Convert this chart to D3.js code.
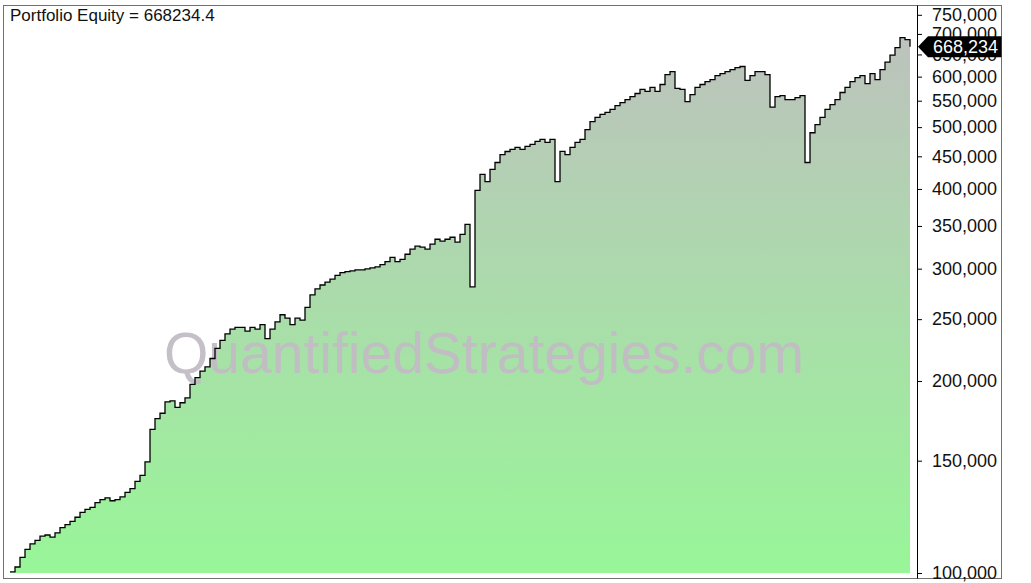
<!DOCTYPE html>
<html><head><meta charset="utf-8">
<script src="https://cdn.jsdelivr.net/npm/d3@7"></script>
<style>html,body{margin:0;padding:0;background:#fff;}svg{display:block;}</style>
</head><body>
<svg id="c" width="1031" height="583"></svg>
<script>
// Equity values (thousands of USD), one per period
const equityK = [
100.4,102.2,105.8,108.9,111.1,112.5,114.2,114.7,113.8,115.6,
117.8,119.1,120.5,122.3,124.5,125.8,126.7,128.9,130.3,131.2,
129.8,130.3,131.6,133.8,135.6,139.2,142.3,149.4,168.0,174.6,
178.0,185.5,186.2,181.8,184.9,188.1,197.5,202.4,207.3,210.5,
216.9,225.0,231.5,237.1,241.1,242.7,242.7,239.5,242.7,241.1,
245.2,233.1,241.1,247.6,254.0,251.0,245.2,251.0,249.2,260.9,
272.9,278.8,282.8,285.8,288.8,292.8,295.8,296.7,297.7,298.7,
298.7,299.7,300.8,302.0,304.3,307.8,312.5,307.8,310.2,316.0,
321.9,325.4,324.2,321.9,327.8,333.6,331.3,333.6,336.0,330.1,
339.5,352.0,280.8,398.0,421.6,410.8,429.3,440.1,452.7,457.9,
461.3,464.7,461.3,466.4,469.9,475.0,478.4,473.3,478.4,410.8,
458.0,452.7,464.7,473.3,478.4,495.5,510.2,517.8,523.5,527.3,
533.0,540.5,546.2,552.1,558.3,564.5,572.8,568.7,577.0,568.7,
583.2,604.3,611.0,575.0,572.8,548.1,562.4,577.0,583.2,589.4,
593.6,602.0,606.5,611.0,615.5,620.0,622.3,592.0,602.0,611.0,
611.0,604.3,537.5,558.3,560.4,552.1,552.1,556.2,560.4,440.1,
490.0,504.5,517.8,533.0,542.4,552.1,566.6,577.0,589.4,597.7,
602.0,585.0,606.5,593.6,615.5,632.4,648.5,666.3,690.7,685.9,
668.2344
];
const tickValues = [100000,150000,200000,250000,300000,350000,400000,450000,500000,550000,600000,650000,700000,750000];
const titleText = "Portfolio Equity = 668234.4";
const lastValue = 668234.4;
const watermark = "QuantifiedStrategies.com";

const data = equityK.map((v,i)=>({i, v: v*1000}));

const svg = d3.select("#c");
const W = 1031, H = 583;
const frame = {l:3.5, t:5.5, r:1001.5, b:578.5};
const axisX = 917;

const x = d3.scaleLinear().domain([0, data.length-1]).range([10, 910]);
const y = d3.scaleLog().domain([97860, 777000]).range([579, 5]);

const defs = svg.append("defs");
const grad = defs.append("linearGradient").attr("id","g").attr("gradientUnits","userSpaceOnUse")
  .attr("x1",0).attr("x2",0).attr("y1",5).attr("y2",y(100000));
grad.append("stop").attr("offset","0%").attr("stop-color","#bfbfbf");
grad.append("stop").attr("offset","100%").attr("stop-color","#98f698");

const area = d3.area().x(d=>x(d.i)).y0(y(100000)).y1(d=>y(d.v)).curve(d3.curveStepAfter);
svg.append("path").datum(data).attr("d",area).attr("fill","url(#g)");

svg.append("text").attr("x",484).attr("y",373).attr("text-anchor","middle")
  .attr("font-family","Liberation Sans, Arial, sans-serif").attr("font-size",57)
  .attr("fill","#c2bcc4").attr("fill-opacity",0.95).text(watermark);

const line = d3.line().x(d=>x(d.i)).y(d=>y(d.v)).curve(d3.curveStepAfter);
svg.append("path").datum(data).attr("d",line).attr("fill","none").attr("stroke","#000").attr("stroke-width",1.3);

// frame
svg.append("rect").attr("x",frame.l).attr("y",frame.t).attr("width",frame.r-frame.l).attr("height",frame.b-frame.t)
  .attr("fill","none").attr("stroke","#707070").attr("stroke-width",1);

// right axis
const axis = d3.axisRight(y).tickValues(tickValues).tickSize(5).tickPadding(10)
  .tickFormat(d3.format(","));
const ag = svg.append("g").attr("transform",`translate(${axisX},0)`).call(axis);
ag.select(".domain").attr("d",`M0.5,${frame.t}V${frame.b}`).attr("stroke","#000");
ag.selectAll(".tick line").attr("stroke","#000").attr("x1",0.5);
ag.selectAll(".tick text").attr("font-family","Liberation Sans, Arial, sans-serif").attr("font-size",18).attr("fill","#111");

// last value label
const ly = y(lastValue);
const lg = svg.append("g");
lg.append("path").attr("d",`M${axisX+1},${ly} L${axisX+11},${ly-10.5} H${frame.r} V${ly+10.5} H${axisX+11} Z`).attr("fill","#000");
lg.append("text").attr("x",axisX+16).attr("y",ly+6.5).attr("font-family","Liberation Sans, Arial, sans-serif")
  .attr("font-size",18).attr("fill","#fff").text(d3.format(",")(Math.round(lastValue)));

// title
svg.append("text").attr("x",10).attr("y",21).attr("font-family","Liberation Sans, Arial, sans-serif")
  .attr("font-size",17).attr("fill","#111").text(titleText);
</script>
</body></html>
